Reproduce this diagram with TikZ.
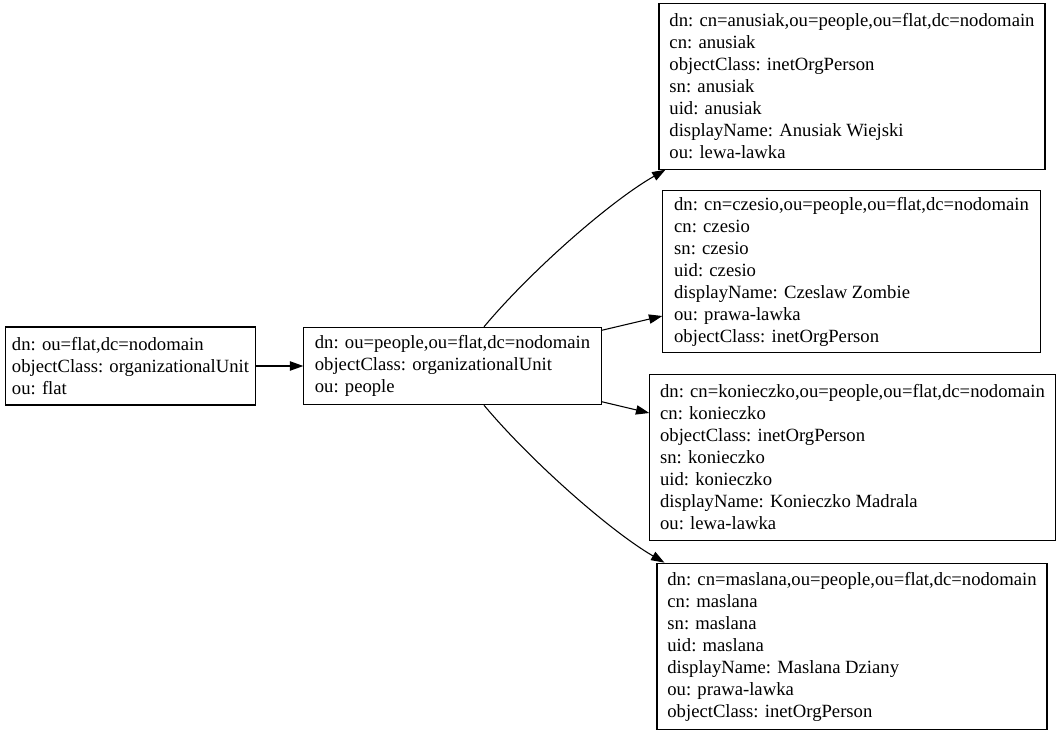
\documentclass[tikz,border=0pt]{standalone}
\usepackage{fontspec}
\setmainfont{Liberation Serif}
\usetikzlibrary{positioning, arrows.meta, calc}

\begin{document}
\begin{tikzpicture}[
  x=0.75pt, y=-0.75pt,
  entry/.style={draw=black, line width=0.8pt, rectangle, align=left, inner sep=0,
    font=\fontsize{14}{16.5}\selectfont},
  link/.style={-{Triangle[length=10pt, width=7pt]}, line width=0.8pt},
]
  \useasboundingbox (0,0) rectangle (1061,733);

  % --- organizational units ---
  \node[entry, minimum width=188pt, minimum height=58.5pt] (flat) at (130.5,366)
    {dn: ou=flat,dc=nodomain\\objectClass: organizationalUnit\\ou: flat};
  \node[entry, minimum width=223pt, minimum height=58pt] (people) at (452.5,366)
    {dn: ou=people,ou=flat,dc=nodomain\\objectClass: organizationalUnit\\ou: people};

  % --- persons ---
  \node[entry, minimum width=289.5pt, minimum height=124pt] (anusiak) at (852,86.5)
    {dn: cn=anusiak,ou=people,ou=flat,dc=nodomain\\cn: anusiak\\objectClass: inetOrgPerson\\sn: anusiak\\uid: anusiak\\displayName: Anusiak Wiejski\\ou: lewa-lawka};
  \node[entry, minimum width=283pt, minimum height=122pt] (czesio) at (851.5,271.5)
    {dn: cn=czesio,ou=people,ou=flat,dc=nodomain\\cn: czesio\\sn: czesio\\uid: czesio\\displayName: Czeslaw Zombie\\ou: prawa-lawka\\objectClass: inetOrgPerson};
  \node[entry, minimum width=304pt, minimum height=125pt] (konieczko) at (852.5,457.5)
    {dn: cn=konieczko,ou=people,ou=flat,dc=nodomain\\cn: konieczko\\objectClass: inetOrgPerson\\sn: konieczko\\uid: konieczko\\displayName: Konieczko Madrala\\ou: lewa-lawka};
  \node[entry, minimum width=292.5pt, minimum height=125pt] (maslana) at (852,646.5)
    {dn: cn=maslana,ou=people,ou=flat,dc=nodomain\\cn: maslana\\sn: maslana\\uid: maslana\\displayName: Maslana Dziany\\ou: prawa-lawka\\objectClass: inetOrgPerson};

  % --- edges ---
  \draw[link] (flat.east) -- (people.west);
  \draw[link] ($(people.north)+(31.5,0)$) .. controls +(46,-55) and +(-56,32) .. ($(anusiak.south west)+(7,0)$);
  \draw[link] ($(people.north east)+(0,3.5)$) -- ($(czesio.west)+(0,44.5)$);
  \draw[link] ($(people.south east)+(0,-3.5)$) -- ($(konieczko.west)+(0,-44.5)$);
  \draw[link] ($(people.south)+(31.5,0)$) .. controls +(46,55) and +(-55,-32) .. ($(maslana.north west)+(8,0)$);
\end{tikzpicture}
\end{document}
